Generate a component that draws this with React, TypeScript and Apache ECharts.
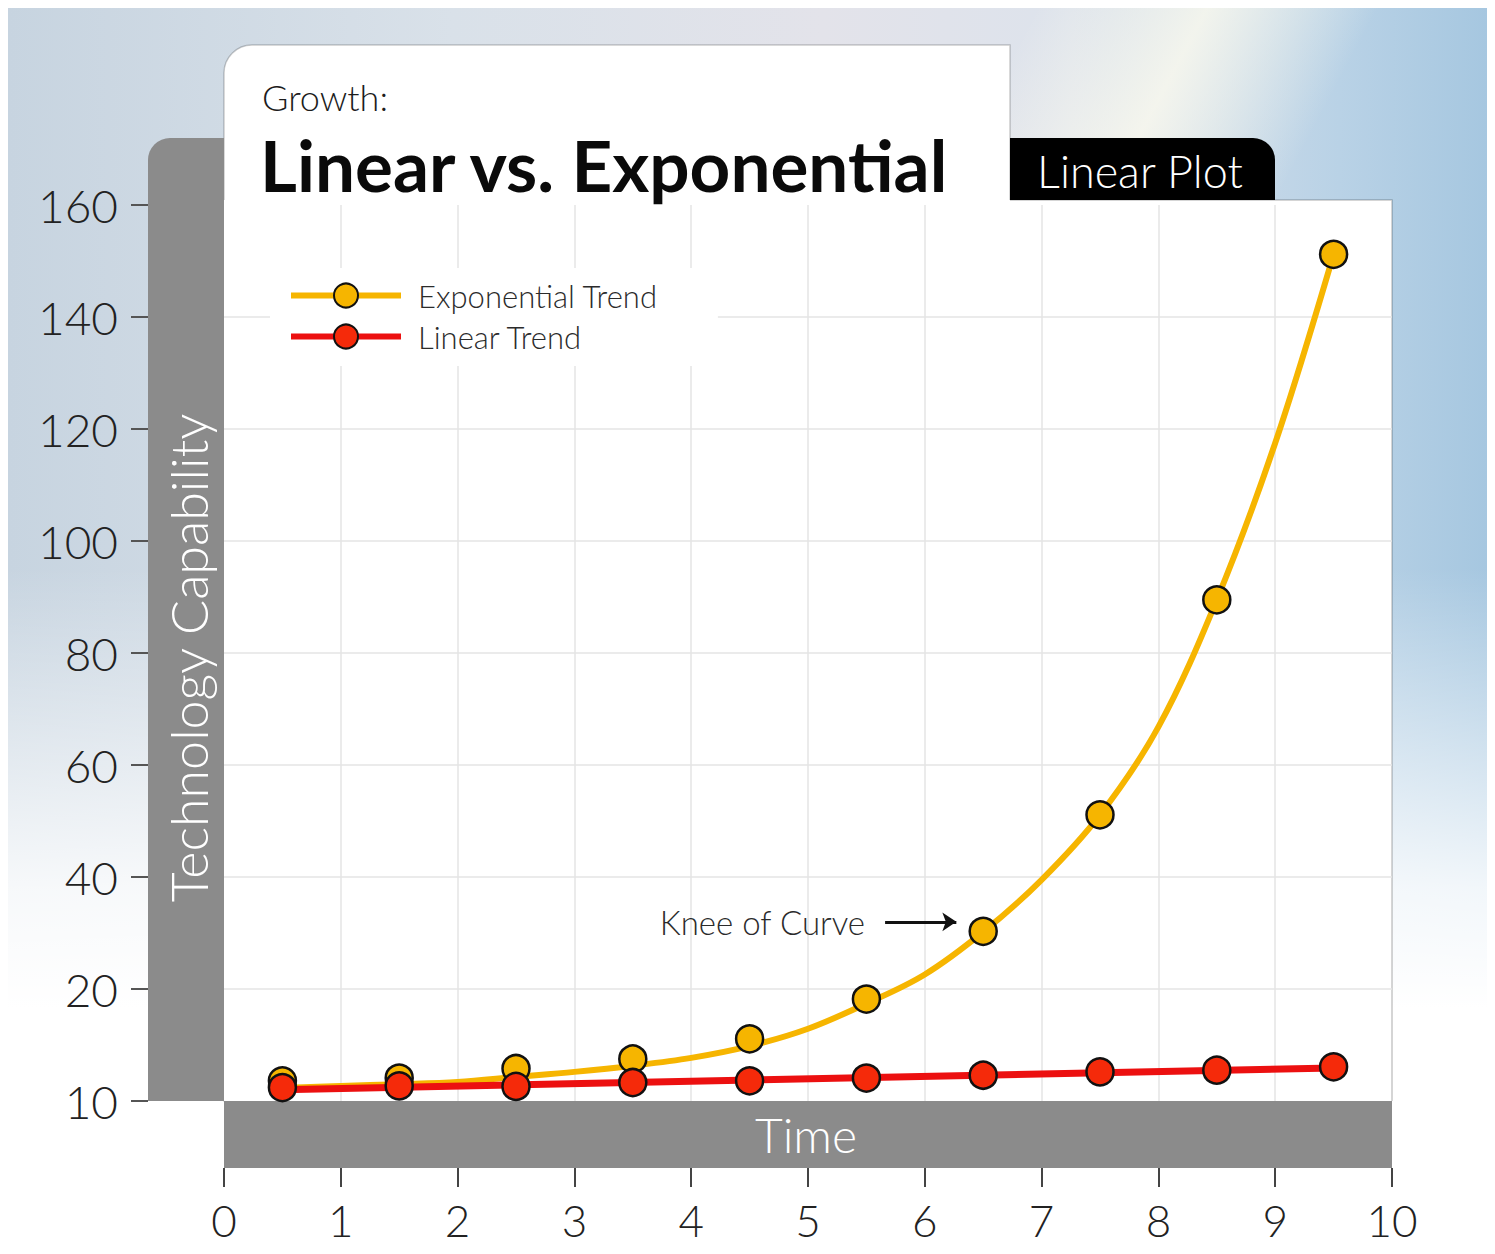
import React, { useEffect, useRef } from "react";
import * as echarts from "echarts";

// ---- data ----
// plotted markers
const timePoints = [0.5, 1.5, 2.5, 3.5, 4.5, 5.5, 6.5, 7.5, 8.5, 9.5];
const exponentialValues = [3.6, 4.1, 5.8, 7.5, 11.1, 18.2, 30.3, 51.1, 89.5, 151.2];
const linearValues = [2.4, 2.7, 2.6, 3.3, 3.6, 4.1, 4.6, 5.2, 5.5, 6.1];
// fitted trend curves
const curveTimes = [0.5, 1, 1.5, 2, 2.5, 3, 3.5, 4, 4.5, 5, 5.5, 6, 6.5, 7, 7.5, 8, 8.5, 9, 9.5];
const exponentialCurve = [2.3, 2.7, 3.0, 3.4, 4.3, 5.2, 6.3, 7.7, 9.8, 12.9, 17.4, 22.6, 30.2, 39.5, 51.1, 66.8, 89.5, 117.5, 151.2];
const linearCurveTimes = [0.5, 9.5];
const linearCurve = [2.0, 5.9];
// axis labels
const yTickLabels: Record<number, string> = {
  0: "10", 20: "20", 40: "40", 60: "60", 80: "80",
  100: "100", 120: "120", 140: "140", 160: "160",
};
const xTickValues = [0, 1, 2, 3, 4, 5, 6, 7, 8, 9, 10];
const kneeArrowStart = [5.66, 32];
const kneeArrowEnd = [6.27, 32];

const FONT = "Lato, 'Open Sans', 'DejaVu Sans', sans-serif";
const YELLOW = "#f6b500";
const RED_LINE = "#ec1010";
const RED_MARK = "#f52a0a";

export default function App() {
  const ref = useRef<HTMLDivElement>(null);

  useEffect(() => {
    if (!ref.current) return;
    const chart = echarts.init(ref.current, undefined, { renderer: "svg" });

    const expPoints = timePoints.map((t, i) => [t, exponentialValues[i]]);
    const linPoints = timePoints.map((t, i) => [t, linearValues[i]]);
    const expCurve = curveTimes.map((t, i) => [t, exponentialCurve[i]]);
    const linCurve = linearCurveTimes.map((t, i) => [t, linearCurve[i]]);

    const hidden = {
      axisLine: { show: false },
      axisTick: { show: false },
      axisLabel: { show: false },
      splitLine: { show: false },
    };

    chart.setOption({
      animation: false,
      textStyle: { fontFamily: FONT },
      grid: [
        { left: 216, top: 197, right: 95, bottom: 153, containLabel: false, outerBoundsMode: "none" },
        { left: 140, top: 197, width: 1, bottom: 153, containLabel: false, outerBoundsMode: "none" },
        { left: 216, right: 95, top: 1159, height: 1, containLabel: false, outerBoundsMode: "none" },
      ],
      legend: {
        orient: "vertical",
        left: 262,
        top: 260,
        backgroundColor: "#ffffff",
        padding: [12, 60, 14, 18],
        itemWidth: 110,
        itemHeight: 30,
        itemGap: 10,
        lineStyle: { width: 6 },
        textStyle: { fontSize: 31, color: "#2b2b2b", fontFamily: FONT, fontWeight: 300, padding: [0, 0, 0, 12] },
        data: ["Exponential Trend", "Linear Trend"],
      },
      xAxis: [
        {
          type: "value", gridIndex: 0, min: 0, max: 10, interval: 1,
          axisLine: { show: false }, axisTick: { show: false }, axisLabel: { show: false },
          splitLine: { show: true, showMinLine: false, showMaxLine: false, lineStyle: { color: "#e4e4e4", width: 1.5 } },
        },
        { type: "value", gridIndex: 1, min: 0, max: 1, ...hidden },
        {
          type: "value", gridIndex: 2, min: 0, max: 10, interval: 1, position: "bottom",
          axisLine: { show: false },
          axisTick: { show: true, length: 19, lineStyle: { color: "#444", width: 2 } },
          axisLabel: {
            margin: 30,
            fontSize: 44,
            color: "#222",
            fontFamily: FONT,
            fontWeight: 300,
            formatter: (v: number) => (xTickValues.includes(v) ? String(v) : ""),
          },
          splitLine: { show: false },
        },
      ],
      yAxis: [
        {
          type: "value", gridIndex: 0, min: 0, max: 160, interval: 20,
          axisLine: { show: false }, axisTick: { show: false }, axisLabel: { show: false },
          splitLine: { show: true, showMinLine: false, showMaxLine: false, lineStyle: { color: "#e4e4e4", width: 1.5 } },
        },
        {
          type: "value", gridIndex: 1, min: 0, max: 160, interval: 20, position: "left",
          axisLine: { show: false },
          axisTick: { show: true, length: 17, lineStyle: { color: "#555", width: 2 } },
          axisLabel: {
            margin: 30,
            fontSize: 46,
            color: "#222",
            fontFamily: FONT,
            fontWeight: 300,
            formatter: (v: number) => yTickLabels[v] ?? "",
          },
          splitLine: { show: false },
        },
        { type: "value", gridIndex: 2, min: 0, max: 1, ...hidden },
      ],
      graphic: [
        {
          type: "rect", z: -20,
          shape: { x: 216, y: 37, width: 786, height: 1056, r: [28, 0, 0, 0] },
          style: { fill: "#ffffff", stroke: "rgba(0,0,0,0.2)", lineWidth: 1.5 },
        },
        {
          type: "rect", z: -19,
          shape: { x: 216, y: 192, width: 1168, height: 901 },
          style: { fill: "#ffffff" },
        },
        {
          type: "polyline", z: -18,
          shape: { points: [[1002, 192], [1384, 192], [1384, 1093]] },
          style: { stroke: "rgba(0,0,0,0.22)", lineWidth: 1.5, fill: null },
        },
        {
          type: "rect", z: -17,
          shape: { x: 1002, y: 130, width: 265, height: 62, r: [0, 22, 0, 0] },
          style: { fill: "#000000" },
        },
        {
          type: "rect", z: -17,
          shape: { x: 140, y: 130, width: 76, height: 963, r: [22, 0, 0, 0] },
          style: { fill: "#8b8b8b" },
        },
        {
          type: "rect", z: -17,
          shape: { x: 216, y: 1093, width: 1168, height: 67 },
          style: { fill: "#8b8b8b" },
        },
        {
          type: "text", z: 10, x: 254, y: 89,
          style: { text: "Growth:", fontSize: 36, lineHeight: 38, fill: "#1c1c1c", fontFamily: FONT, fontWeight: 300, verticalAlign: "middle", align: "left" },
        },
        {
          type: "text", z: 10, x: 252, y: 156,
          style: { text: "Linear vs. Exponential", fontSize: 71, lineHeight: 66, fill: "#0a0a0a", fontFamily: FONT, fontWeight: "bold", verticalAlign: "middle", align: "left" },
        },
        {
          type: "text", z: 10, x: 1132, y: 163,
          style: { text: "Linear Plot", fontSize: 45, fill: "#ffffff", fontFamily: FONT, fontWeight: 300, verticalAlign: "middle", align: "center" },
        },
        {
          type: "text", z: 10, x: 180, y: 650, rotation: Math.PI / 2,
          style: { text: "Technology Capability", fontSize: 52, fill: "#ffffff", fontFamily: FONT, fontWeight: 300, verticalAlign: "middle", align: "center" },
        },
        {
          type: "text", z: 10, x: 798, y: 1126,
          style: { text: "Time", fontSize: 48, fill: "#ffffff", fontFamily: FONT, fontWeight: 300, verticalAlign: "middle", align: "center" },
        },
      ],
      series: [
        {
          name: "Exponential curve",
          type: "line",
          xAxisIndex: 0,
          yAxisIndex: 0,
          data: expCurve,
          smooth: 0.35,
          symbol: "none",
          silent: true,
          z: 2,
          lineStyle: { color: YELLOW, width: 6 },
          markLine: {
            silent: true,
            symbol: ["none", "arrow"],
            symbolSize: 14,
            lineStyle: { color: "#111", width: 3, type: "solid" },
            label: {
              show: true,
              position: "start",
              distance: 20,
              formatter: "Knee of Curve",
              fontSize: 33,
              color: "#2b2b2b",
              fontFamily: FONT,
              fontWeight: 300,
            },
            data: [[{ coord: kneeArrowStart }, { coord: kneeArrowEnd }]],
          },
        },
        {
          name: "Linear curve",
          type: "line",
          xAxisIndex: 0,
          yAxisIndex: 0,
          data: linCurve,
          symbol: "none",
          silent: true,
          z: 3,
          lineStyle: { color: RED_LINE, width: 7 },
        },
        {
          name: "Exponential Trend",
          type: "line",
          xAxisIndex: 0,
          yAxisIndex: 0,
          data: expPoints,
          symbol: "circle",
          symbolSize: 27,
          z: 4,
          itemStyle: { color: YELLOW, borderColor: "#111", borderWidth: 2.5 },
          lineStyle: { color: YELLOW, width: 0 },
        },
        {
          name: "Linear Trend",
          type: "line",
          xAxisIndex: 0,
          yAxisIndex: 0,
          data: linPoints,
          symbol: "circle",
          symbolSize: 27,
          z: 5,
          itemStyle: { color: RED_MARK, borderColor: "#111", borderWidth: 2.5 },
          lineStyle: { color: RED_LINE, width: 0 },
        },
      ],
    });

    return () => chart.dispose();
  }, []);

  const bg = [
    "linear-gradient(to bottom, rgba(255,255,255,0) 0px, rgba(255,255,255,0) 560px, rgba(255,255,255,0.85) 880px, #ffffff 1000px)",
    "linear-gradient(118deg, rgba(255,255,255,0) 48%, rgba(255,252,238,0.75) 56%, rgba(255,255,255,0) 64%, rgba(255,255,255,0) 100%)",
    "linear-gradient(to right, #c7d4e0 0%, #d9e1e9 30%, #e3e3ea 55%, #dde3ec 72%, #b9d2e6 90%, #a6c7e0 100%)",
  ].join(",");

  return (
    <div
      ref={ref}
      style={{ width: 1479, height: 1246, marginBottom: -8, background: bg }}
    />
  );
}
